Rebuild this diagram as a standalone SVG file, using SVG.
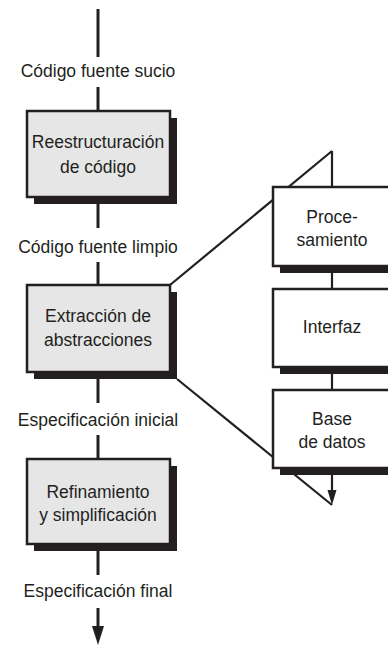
<svg xmlns="http://www.w3.org/2000/svg" width="388" height="646" viewBox="0 0 388 646">
<defs>
<style>
.t{font-family:"Liberation Sans",Arial,sans-serif;font-size:17.5px;fill:#231f20;text-anchor:middle}
.c{stroke:#231f20;stroke-width:3;fill:none}
.cr{stroke:#231f20;stroke-width:2.2;fill:none}
.box{fill:#e6e6e7;stroke:#231f20;stroke-width:2.5}
.rbox{fill:#ffffff;stroke:#231f20;stroke-width:2.5}
.sh{fill:#231f20}
</style>
</defs>
<rect width="388" height="646" fill="#ffffff"/>
<g id="connectors">
<line class="c" x1="98" y1="9" x2="98" y2="57"/>
<line class="c" x1="98" y1="87" x2="98" y2="111"/>
<line class="c" x1="98" y1="204" x2="98" y2="228"/>
<line class="c" x1="98" y1="262" x2="98" y2="285"/>
<line class="c" x1="98" y1="379" x2="98" y2="403"/>
<line class="c" x1="98" y1="435" x2="98" y2="459"/>
<line class="c" x1="98" y1="551" x2="98" y2="575"/>
<line class="c" x1="98" y1="608" x2="98" y2="628"/>
<polygon points="92,626 104,626 98,645" fill="#231f20"/>
<line class="cr" x1="170" y1="285" x2="332" y2="151"/>
<line class="cr" x1="332" y1="151" x2="332" y2="187"/>
<line class="cr" x1="177" y1="379" x2="332" y2="505"/>
<line class="cr" x1="332" y1="273" x2="332" y2="289"/>
<line class="cr" x1="332" y1="374" x2="332" y2="390"/>
<line class="cr" x1="332" y1="475" x2="332" y2="492"/>
<polygon points="327.5,490 336.5,490 332,505" fill="#231f20"/>
</g>
<g id="lbl-sucio"><text class="t" x="98" y="77">Código fuente sucio</text></g>
<g id="lbl-limpio"><text class="t" x="98" y="253">Código fuente limpio</text></g>
<g id="lbl-inicial"><text class="t" x="98" y="426">Especificación inicial</text></g>
<g id="lbl-final"><text class="t" x="98" y="597">Especificación final</text></g>
<g id="reestructuracion">
<rect class="sh" x="34" y="118" width="143" height="86"/>
<rect class="box" x="27" y="111" width="143" height="86"/>
<text class="t" x="98" y="148">Reestructuración</text>
<text class="t" x="98" y="173">de código</text>
</g>
<g id="extraccion">
<rect class="sh" x="34" y="292" width="143" height="87"/>
<rect class="box" x="27" y="285" width="143" height="87"/>
<text class="t" x="98" y="322">Extracción de</text>
<text class="t" x="98" y="346">abstracciones</text>
</g>
<g id="refinamiento">
<rect class="sh" x="34" y="466" width="143" height="85"/>
<rect class="box" x="27" y="459" width="143" height="85"/>
<text class="t" x="98" y="498">Refinamiento</text>
<text class="t" x="98" y="521">y simplificación</text>
</g>
<g id="procesamiento">
<rect class="sh" x="280" y="194" width="120" height="79"/>
<rect class="rbox" x="273" y="187" width="130" height="79"/>
<text class="t" x="332" y="223">Proce-</text>
<text class="t" x="332" y="246">samiento</text>
</g>
<g id="interfaz">
<rect class="sh" x="280" y="296" width="120" height="78"/>
<rect class="rbox" x="273" y="289" width="130" height="78"/>
<text class="t" x="332" y="333">Interfaz</text>
</g>
<g id="base-datos">
<rect class="sh" x="280" y="397" width="120" height="78"/>
<rect class="rbox" x="273" y="390" width="130" height="78"/>
<text class="t" x="332" y="425">Base</text>
<text class="t" x="332" y="448">de datos</text>
</g>
</svg>
